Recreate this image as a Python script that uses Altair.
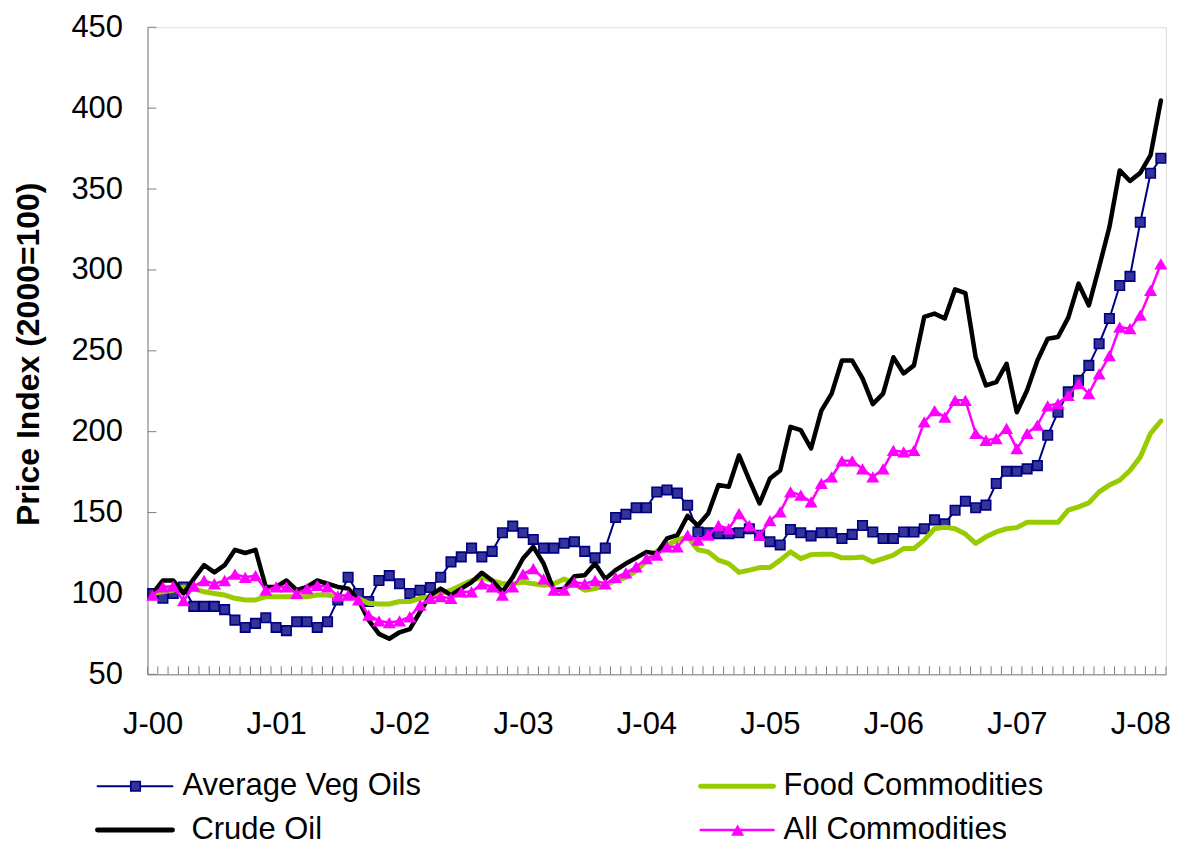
import json
import altair as alt
import pandas as pd

# ---------------- data ----------------
months = list(range(99))  # Jan 2000 .. Mar 2008

veg_oils = [100, 97, 100, 104, 92, 92, 92, 90, 83.5, 79, 81.5, 85, 79, 77, 82.5, 82.5,
            79, 82.5, 96, 110, 100, 95, 108, 111, 106, 100, 102, 103.7, 110, 119.5,
            122.6, 128, 122.6, 126, 137.5, 141.6, 137.5, 133.4, 128, 128, 131, 132, 126,
            122, 128, 147, 149, 153, 153, 162.7, 164, 162, 154.5, 138, 137.5, 137, 137,
            137.5, 140, 136, 132, 130, 139.5, 137.5, 135.6, 137.5, 137.5, 134, 136.5, 142,
            138, 134, 134, 138, 138, 140, 145.5, 143, 151.4, 157, 153, 154.6, 168, 175.5,
            175.5, 177, 179, 197.8, 212, 224.6, 231.7, 241, 254.4, 270, 290.4, 296, 329.5,
            359.8, 369]

crude_oil = [100, 108, 108, 100, 109, 117.5, 113, 117.5, 127, 125, 127, 104, 104, 108, 102,
             104, 108, 106, 104, 103, 96, 83.5, 75, 72, 76, 78, 88.7, 99, 103, 99, 103, 107,
             112.8, 108, 101, 110, 121.6, 128.8, 118.5, 102, 103, 110.7, 111.3, 118.5, 109,
             114.4, 118.5, 122, 125.7, 124.7, 134, 136, 148, 142, 149.4, 167, 166, 185.4, 170,
             155.6, 171, 176, 203, 201, 189.6, 213, 223.5, 244, 244, 233, 217, 223.5, 246, 236,
             241, 271, 273, 270, 288, 285.7, 246, 228.6, 230.7, 242, 212, 225.6, 244, 257.5,
             258.5, 270.5, 291.5, 278, 301.8, 326.5, 361.5, 355, 360, 371, 404.7]

food = [100, 101, 102, 104, 103, 101, 100, 99, 97, 96, 96, 98, 98, 98, 98, 98, 99, 99, 98,
        98, 97, 94, 93.5, 93.5, 95, 95, 97, 98, 100, 102, 105, 108, 110, 108, 106, 106, 107,
        106, 105, 106, 109, 106, 102, 103, 105, 108, 110, 114, 120, 126, 130, 133, 135, 127,
        125.7, 120.6, 118.5, 113, 114.4, 116, 116, 120.6, 125.7, 121.5, 124, 124.3, 124.3,
        122, 122, 122.6, 119.5, 121.6, 123.7, 127.8, 127.8, 133, 140, 141, 140, 136.7, 131,
        135, 138, 140, 140.7, 144, 144, 144, 144, 151.5, 153.5, 156, 162.8, 167, 170, 176,
        184.4, 199, 206.6]

all_commodities = [99, 104, 104.5, 95.5, 104.5, 108, 106, 108, 112, 110, 111, 102, 104, 104,
                   100, 103, 105, 104, 98.5, 99, 96, 86.6, 83, 82, 83, 85.6, 92.8, 97, 98, 97,
                   101, 101, 106, 104, 99, 104, 112, 115.4, 109, 102, 102, 107, 106, 108, 106,
                   110, 112.7, 116.5, 121.6, 123.7, 128.8, 128.8, 136, 133, 136, 142, 140,
                   149.4, 142, 136, 145, 150.4, 162.8, 160.8, 156.6, 168, 172, 182, 182, 177,
                   172, 177, 188.5, 187.5, 188.5, 206, 213, 209, 219.4, 219.4, 199, 194.7,
                   195.7, 202, 189.5, 199, 204, 216, 217.4, 222.5, 229.7, 223.5, 235.8, 247,
                   264.7, 263.7, 272, 287.3, 303.7]

series_names = ["Average Veg Oils", "Food Commodities", "Crude Oil", "All Commodities"]
x_label_positions = [0, 12, 24, 36, 48, 60, 72, 84, 96]
x_labels = ["J-00", "J-01", "J-02", "J-03", "J-04", "J-05", "J-06", "J-07", "J-08"]
y_ticks = [50, 100, 150, 200, 250, 300, 350, 400, 450]
month_edges = [m - 0.5 for m in range(100)]

# ---------------- styling / layout ----------------
FONT = "Liberation Sans"
W, H = 1020, 648
AXIS_GRAY = "#808080"
C_VEG, C_VEG_FILL = "#000080", "#33339a"
C_FOOD, C_CRUDE, C_ALL = "#99CC00", "#000000", "#FF00FF"

xscale = alt.Scale(domain=[-0.5, 98.5], nice=False, zero=False)
yscale = alt.Scale(domain=[50, 450], nice=False, zero=False)

x_axis = alt.Axis(
    values=x_label_positions,
    labelExpr=f"{json.dumps(x_labels)}[round(datum.value / 12)]",
    ticks=False, tickSize=0, grid=False, title=None,
    domainColor=AXIS_GRAY, domainWidth=1,
    labelFont=FONT, labelFontSize=31, labelColor="#000000",
    labelPadding=59, labelBaseline="alphabetic",
    labelFlush=False, labelOverlap=False, labelBound=False,
)
y_axis = alt.Axis(
    values=y_ticks, ticks=False, tickSize=0, grid=False,
    domainColor=AXIS_GRAY, domainWidth=1,
    labelFont=FONT, labelFontSize=31, labelColor="#000000", labelPadding=25,
    labelFlush=False, labelOverlap=False,
    title="Price Index (2000=100)", titleFont=FONT, titleFontSize=32,
    titleFontWeight="bold", titleColor="#000000", titleAngle=270,
    titleX=-119, titleY=H / 2 + 3, titleAlign="center", titleBaseline="middle",
)


def X():
    return alt.X("m:Q", scale=xscale, axis=x_axis)


def Y():
    return alt.Y("v:Q", scale=yscale, axis=y_axis)


def df(vals):
    return pd.DataFrame({"m": months, "v": vals})


veg_line = alt.Chart(df(veg_oils)).mark_line(color=C_VEG, strokeWidth=2).encode(x=X(), y=Y())
veg_pts = alt.Chart(df(veg_oils)).mark_point(
    shape="square", filled=True, size=90, fill=C_VEG_FILL, stroke=C_VEG,
    strokeWidth=1.6, opacity=1).encode(x=X(), y=Y())
food_line = alt.Chart(df(food)).mark_line(
    color=C_FOOD, strokeWidth=5, strokeJoin="round", strokeCap="round").encode(x=X(), y=Y())
crude_line = alt.Chart(df(crude_oil)).mark_line(
    color=C_CRUDE, strokeWidth=4.5, strokeJoin="round", strokeCap="round").encode(x=X(), y=Y())
all_line = alt.Chart(df(all_commodities)).mark_line(color=C_ALL, strokeWidth=2.5).encode(x=X(), y=Y())
all_pts = alt.Chart(df(all_commodities)).mark_point(
    shape="triangle-up", filled=True, size=170, color=C_ALL, opacity=1).encode(x=X(), y=Y())

# inward tick marks (Excel style)
xtick = alt.Chart(pd.DataFrame({"m": month_edges})).mark_rule(
    color=AXIS_GRAY, strokeWidth=1).encode(x=X(), y=alt.value(H), y2=alt.value(H - 8))
ytick = alt.Chart(pd.DataFrame({"v": y_ticks})).mark_rule(
    color=AXIS_GRAY, strokeWidth=1).encode(y=Y(), x=alt.value(0), x2=alt.value(9))

# ---------------- legend (drawn below the plot) ----------------
one = pd.DataFrame({"k": [0]})
legend_layout = {
    # name: (line x1, line x2, marker x, text x, line y, text baseline y)
    "Average Veg Oils": (-50, 25, -12, 35, 760, 769),
    "Food Commodities": (554, 627, 591, 637, 760, 769),
    "Crude Oil": (-50, 25, None, 44, 804, 812.5),
    "All Commodities": (554, 627, 591, 637, 804, 812.5),
}
legend_style = {
    "Average Veg Oils": dict(color=C_VEG, width=2, marker="square"),
    "Food Commodities": dict(color=C_FOOD, width=5, marker=None),
    "Crude Oil": dict(color=C_CRUDE, width=5, marker=None),
    "All Commodities": dict(color=C_ALL, width=2.5, marker="triangle-up"),
}
legend_layers = []
for name in series_names:
    x1, x2, mx, tx, ly, ty = legend_layout[name]
    st = legend_style[name]
    legend_layers.append(
        alt.Chart(one).mark_rule(color=st["color"], strokeWidth=st["width"], strokeCap="round")
        .encode(x=alt.value(x1), x2=alt.value(x2), y=alt.value(ly)))
    if st["marker"] == "square":
        legend_layers.append(
            alt.Chart(one).mark_point(shape="square", filled=True, size=90, fill=C_VEG_FILL,
                                      stroke=C_VEG, strokeWidth=1.6, opacity=1)
            .encode(x=alt.value(mx), y=alt.value(ly)))
    elif st["marker"] == "triangle-up":
        legend_layers.append(
            alt.Chart(one).mark_point(shape="triangle-up", filled=True, size=170,
                                      color=C_ALL, opacity=1)
            .encode(x=alt.value(mx), y=alt.value(ly)))
    legend_layers.append(
        alt.Chart(one).mark_text(align="left", baseline="alphabetic", font=FONT,
                                 fontSize=31, color="#000000")
        .encode(x=alt.value(tx), y=alt.value(ty), text=alt.value(name)))

chart = alt.layer(
    xtick, ytick, veg_line, veg_pts, food_line, crude_line, all_line, all_pts,
    *legend_layers,
).properties(
    width=W, height=H,
    autosize=alt.AutoSizeParams(type="none"),
    padding={"left": 139.7, "top": 18.7, "right": 4, "bottom": 171},
).configure_view(stroke=None).configure(background="#ffffff")

chart.save("out.html", embed_options={"renderer": "svg", "actions": False})
